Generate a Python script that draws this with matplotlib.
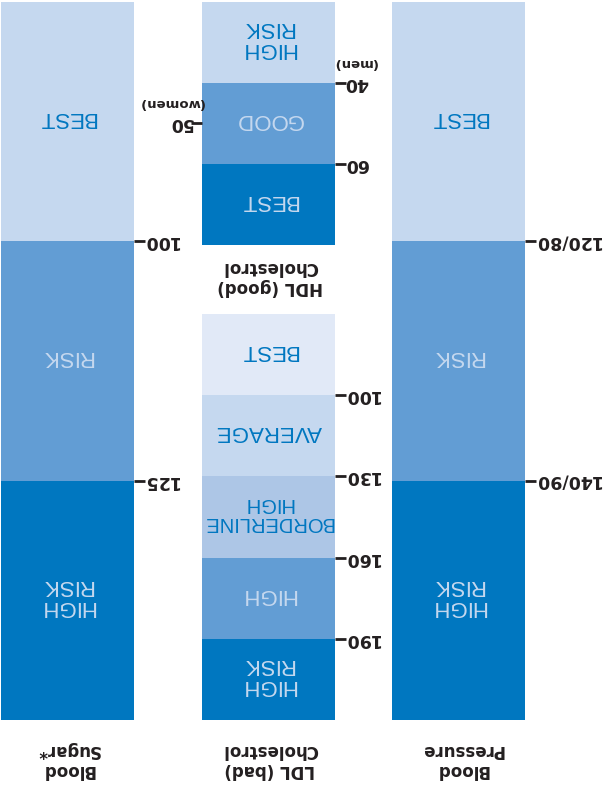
import matplotlib.pyplot as plt

# chart is printed upside down, so every text is turned 180 degrees
W, H = 604, 789

sugar_bands = ["BEST", "RISK", "HIGH\nRISK"]
sugar_ticks = ["100", "125"]
hdl_bands = ["HIGH\nRISK", "GOOD", "BEST"]
hdl_ticks = ["40", "60"]
hdl_women_tick = ["50"]
ldl_bands = ["BEST", "AVERAGE", "BORDERLINE\nHIGH", "HIGH", "HIGH\nRISK"]
ldl_ticks = ["100", "130", "160", "190"]
bp_bands = ["BEST", "RISK", "HIGH\nRISK"]
bp_ticks = ["120/80", "140/90"]

dark = "#0077c0"
mid = "#629dd4"
light = "#c5d8ef"
pale = "#adc6e6"
palest = "#e1e9f7"
ink = "#231f20"

sugar_colors = [light, mid, dark]
hdl_colors = [light, mid, dark]
ldl_colors = [palest, light, pale, mid, dark]
bp_colors = [light, mid, dark]

plt.rcParams['font.family'] = ['Liberation Sans', 'DejaVu Sans']

fig = plt.figure(figsize=(6.04, 7.89), dpi=100)


def style_ticks(ax):
    ax.tick_params(axis='y', direction='out', length=8, width=2, color=ink,
                   labelcolor=ink, labelsize=12.5, pad=-1.5, labelrotation=180)
    for lbl in ax.get_yticklabels():
        lbl.set_fontweight('bold')
        lbl.set_family('DejaVu Sans')
        lbl.set_va('center')
    for s in ax.spines.values():
        s.set_visible(False)


def column(x0, x1, y0, y1, bands, colors, ticks, tick_pos):
    ax = fig.add_axes([x0 / W, 1 - y1 / H, (x1 - x0) / W, (y1 - y0) / H])
    n = len(bands)
    for i, (lab, c) in enumerate(zip(bands, colors)):
        ax.bar(0, 1, bottom=i, width=1, color=c, linewidth=0)
        tc = dark if c in (light, pale, palest) else light
        fs = 14.5 if "BORDERLINE" in lab else 16
        ax.annotate(lab, (0, i + 0.5), xytext=(0, 3), textcoords='offset points',
                    rotation=180, ha='center', va='center',
                    fontsize=fs, color=tc, linespacing=1.0)
    ax.set_xlim(-0.5, 0.5)
    ax.set_ylim(n, 0)
    ax.set_xticks([])
    ax.set_yticks(tick_pos, ticks)
    return ax


sugar = column(1, 134, 2, 720, sugar_bands, sugar_colors, sugar_ticks, [1, 2])
hdl = column(202, 335, 2, 245, hdl_bands, hdl_colors, hdl_ticks, [1, 2])
ldl = column(202, 335, 314, 720, ldl_bands, ldl_colors, ldl_ticks, [1, 2, 3, 4])
bp = column(392, 525, 2, 720, bp_bands, bp_colors, bp_ticks, [1, 2])

# the women's HDL mark sits on the other side
hdl2 = hdl.twinx()
hdl2.set_ylim(3, 0)
hdl2.set_yticks([1.5], hdl_women_tick)
hdl2.yaxis.tick_left()
style_ticks(hdl2)

for ax in (sugar, hdl, ldl, bp):
    ax.yaxis.tick_right()
    style_ticks(ax)


def ftext(x, y, s, size):
    fig.text(x / W, 1 - y / H, s, rotation=180, ha='center', va='center',
             fontsize=size, fontweight='bold', color=ink, family='DejaVu Sans')


ftext(355, 62, "(men)", 9.5)
ftext(171, 103, "(women)", 9.5)
ftext(68, 760, "Blood\nSugar*", 12)
ftext(270, 760, "LDL (bad)\nCholestrol", 12)
ftext(270, 277, "HDL (good)\nCholestrol", 12)
ftext(462, 760, "Blood\nPressure", 12)

fig.savefig("out.png", dpi=100)
